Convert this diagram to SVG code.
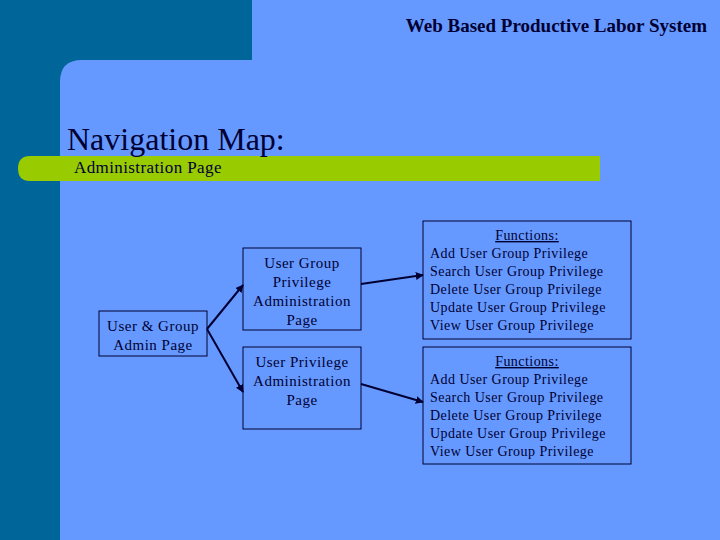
<svg xmlns="http://www.w3.org/2000/svg" width="720" height="540" viewBox="0 0 720 540">
<defs>
<style>
.t{font-family:"Liberation Serif","Times New Roman",serif;fill:#000033}
.box{fill:none;stroke:#000033;stroke-width:1}
.n{font-size:15px;letter-spacing:0.5px;text-anchor:middle}
.f{font-size:14px;letter-spacing:0.45px}
.c{stroke:#000033;stroke-width:2;fill:none;marker-end:url(#ah)}
</style>
<marker id="ah" viewBox="0 0 10 10" refX="9" refY="5" markerWidth="4" markerHeight="4" orient="auto" markerUnits="strokeWidth">
<path d="M0,0 L10,5 L0,10 z" fill="#000033"/>
</marker>
</defs>
<rect x="0" y="0" width="720" height="540" fill="#6699FF"/>
<rect x="0" y="0" width="252" height="80" fill="#006699"/>
<rect x="0" y="0" width="60" height="540" fill="#006699"/>
<path d="M60,540 L60,82 Q60,60 82,60 L252,60 L252,0 L720,0 L720,540 Z" fill="#6699FF"/>
<path d="M30,156 L600,156 L600,181 L30,181 Q18,181 18,168.5 Q18,156 30,156 Z" fill="#99CC00"/>
<text class="t" x="707" y="32" text-anchor="end" font-size="19" font-weight="bold">Web Based Productive Labor System</text>
<text class="t" x="67" y="150" font-size="32">Navigation Map:</text>
<text class="t" x="74" y="173" font-size="17" letter-spacing="0.4">Administration Page</text>
<g id="connectors">
<line class="c" x1="207" y1="329" x2="243" y2="285"/>
<line class="c" x1="207" y1="329" x2="243" y2="392"/>
<line class="c" x1="361" y1="284" x2="423" y2="275"/>
<line class="c" x1="361" y1="384" x2="423" y2="402"/>
</g>
<g id="admin">
<rect class="box" x="99" y="311" width="108" height="45"/>
<text class="t n" x="153" y="331">User &amp; Group</text>
<text class="t n" x="153" y="350">Admin Page</text>
</g>
<g id="ugp">
<rect class="box" x="243" y="248" width="118" height="82"/>
<text class="t n" x="302" y="268">User Group</text>
<text class="t n" x="302" y="287">Privilege</text>
<text class="t n" x="302" y="306">Administration</text>
<text class="t n" x="302" y="325">Page</text>
</g>
<g id="up">
<rect class="box" x="243" y="347" width="118" height="82"/>
<text class="t n" x="302" y="367">User Privilege</text>
<text class="t n" x="302" y="386">Administration</text>
<text class="t n" x="302" y="405">Page</text>
</g>
<g id="func1">
<rect class="box" x="423" y="221" width="208" height="118"/>
<text class="t f" x="527" y="240" text-anchor="middle" text-decoration="underline">Functions:</text>
<text class="t f" x="430" y="258">Add User Group Privilege</text>
<text class="t f" x="430" y="276">Search User Group Privilege</text>
<text class="t f" x="430" y="294">Delete User Group Privilege</text>
<text class="t f" x="430" y="312">Update User Group Privilege</text>
<text class="t f" x="430" y="330">View User Group Privilege</text>
</g>
<g id="func2">
<rect class="box" x="423" y="347" width="208" height="117"/>
<text class="t f" x="527" y="366" text-anchor="middle" text-decoration="underline">Functions:</text>
<text class="t f" x="430" y="384">Add User Group Privilege</text>
<text class="t f" x="430" y="402">Search User Group Privilege</text>
<text class="t f" x="430" y="420">Delete User Group Privilege</text>
<text class="t f" x="430" y="438">Update User Group Privilege</text>
<text class="t f" x="430" y="456">View User Group Privilege</text>
</g>
</svg>
